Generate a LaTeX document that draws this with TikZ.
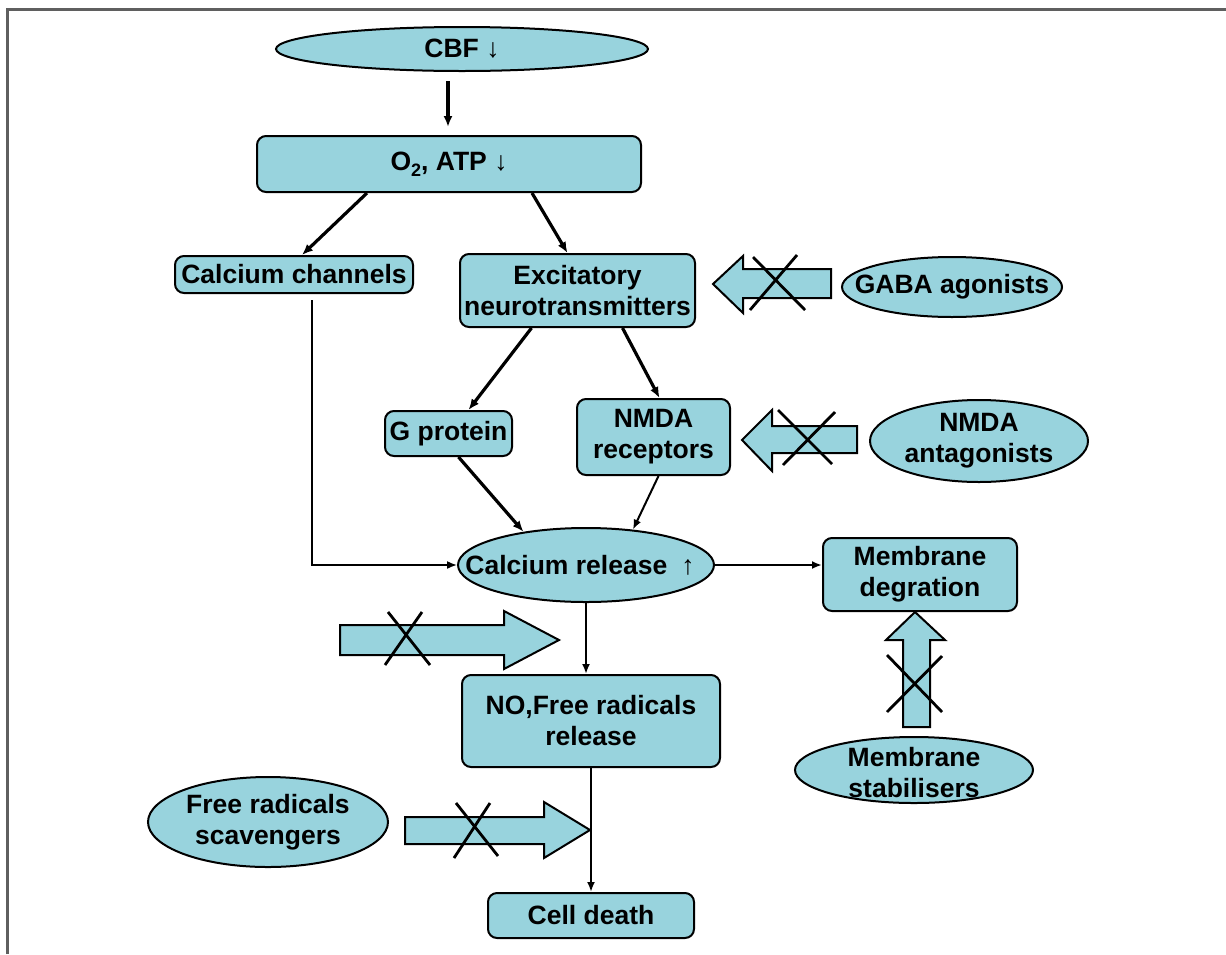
\documentclass[tikz,border=0pt]{standalone}
\usepackage{fontspec}
\setmainfont{Liberation Sans}
\usetikzlibrary{shapes.geometric,arrows.meta,calc}
\definecolor{fillc}{RGB}{152,211,221}
\definecolor{framec}{RGB}{95,95,95}
\newcommand\dfont{\fontsize{26.5}{31}\selectfont\bfseries}
\newcommand\darr{{\mdseries ↓}}
\newcommand\uarr{{\mdseries ↑}}
\begin{document}
\begin{tikzpicture}[x=1pt,y=-1pt,
  box/.style={draw=black,line width=2pt,fill=fillc,rounded corners=9pt,inner sep=0pt,align=center,font=\dfont},
  ell/.style={draw=black,line width=2pt,fill=fillc,ellipse,inner sep=0pt},
  lbl/.style={align=center,font=\dfont,inner sep=0pt},
  arr/.style={-{Latex[length=11pt,width=9pt]},line width=3.2pt},
  tarr/.style={-{Latex[length=10pt,width=8pt]},line width=2pt},
  blk/.style={draw=black,line width=2pt,fill=fillc,line join=miter},
  xx/.style={line width=2.8pt}]
\useasboundingbox (0,0) rectangle (1226,954);
\fill[white] (0,0) rectangle (1226,954);
\draw[framec,line width=3pt] (7,954) -- (7,9) -- (1226,9);

% nodes
\node[ell,minimum width=372pt,minimum height=44pt] (cbf) at (462,49) {};
\node[lbl] (cbft) at (cbf) {CBF \darr};
\node[box,minimum width=384pt,minimum height=56pt] (o2) at (449,164) {O\raisebox{-6pt}{\fontsize{18}{18}\selectfont 2}, ATP \darr};
\node[box,minimum width=238pt,minimum height=37pt] (cc) at (294,274.5) {Calcium channels};
\node[box,minimum width=235pt,minimum height=73pt] (exc) at (577.5,290.5) {Excitatory\\neurotransmitters};
\node[box,minimum width=127pt,minimum height=45pt] (gp) at (448.5,433.5) {G protein};
\node[box,minimum width=153pt,minimum height=76pt] (nmda) at (653.5,437) {NMDA\\receptors};
\node[ell,minimum width=256pt,minimum height=74pt] (car) at (586,565) {};
\node[lbl] (cart) at (580,565) {Calcium release\hspace{14pt}\uarr};
\node[box,minimum width=194pt,minimum height=73pt] (mem) at (920,574.5) {Membrane\\degration};
\node[box,minimum width=258pt,minimum height=92pt] (no) at (591,721) {NO,Free radicals\\release};
\node[box,minimum width=206pt,minimum height=45pt] (cd) at (591,915.5) {Cell death};
\node[ell,minimum width=220pt,minimum height=60pt] (gaba) at (952,287) {};
\node[lbl] (gabat) at (gaba) {GABA agonists};
\node[ell,minimum width=218pt,minimum height=82pt] (nant) at (979,441) {};
\node[lbl] (nantt) at (nant) {NMDA\\antagonists};
\node[ell,minimum width=240pt,minimum height=90pt] (frs) at (268,822) {};
\node[lbl] (frst) at (frs) {Free radicals\\scavengers};
\node[ell,minimum width=238pt,minimum height=66pt] (mst) at (914,770) {};
\node[lbl] (mstt) at (914,773) {Membrane\\stabilisers};

% connectors
\draw[arr,shorten <=9pt,shorten >=8pt] ([xshift=-14pt]cbf.south) -- ([xshift=-1pt]o2.north);
\draw[arr] ([xshift=-82pt]o2.south) -- ([xshift=8pt]cc.north);
\draw[arr] ([xshift=83pt]o2.south) -- ([xshift=-10pt]exc.north);
\draw[arr] ([xshift=-46pt]exc.south) -- ([xshift=20pt]gp.north);
\draw[arr] ([xshift=45pt]exc.south) -- ([xshift=6pt]nmda.north);
\draw[arr] ([xshift=10pt]gp.south) -- (car.152);
\draw[tarr] ([xshift=5pt]nmda.south) -- (car.37);
\draw[tarr,line width=1.6pt,shorten <=6pt] ([xshift=18pt]cc.south) |- (car.west);
\draw[tarr,line width=2.4pt] (car.east) -- (car.east -| mem.west);
\draw[tarr] (car.south) -- (car.south |- no.north);
\draw[tarr] (no.south) -- (cd.north);

% block arrows (blocked)
\draw[blk] (713,284) -- (743,256) -- (743,269) -- (831,269) -- (831,298) -- (743,298) -- (743,313) -- cycle;
\draw[xx] (750,310) -- (797,255) (753,257) -- (805,310);
\draw[blk] (742,440) -- (772,410) -- (772,426) -- (857,426) -- (857,453) -- (772,453) -- (772,471) -- cycle;
\draw[xx] (778,410) -- (832,464) (835,412) -- (783,465);
\draw[blk] (559,640) -- (504,611) -- (504,625) -- (340,625) -- (340,655) -- (504,655) -- (504,669) -- cycle;
\draw[xx] (385,665) -- (422,612) (388,612) -- (430,665);
\draw[blk] (915,612) -- (945,640) -- (930,640) -- (930,727) -- (903,727) -- (903,640) -- (886,640) -- cycle;
\draw[xx] (887,655) -- (942,712) (887,712) -- (942,656);
\draw[blk] (590,830) -- (544,802) -- (544,817) -- (405,817) -- (405,844) -- (544,844) -- (544,858) -- cycle;
\draw[xx] (454,858) -- (490,803) (456,803) -- (498,856);
\end{tikzpicture}
\end{document}
